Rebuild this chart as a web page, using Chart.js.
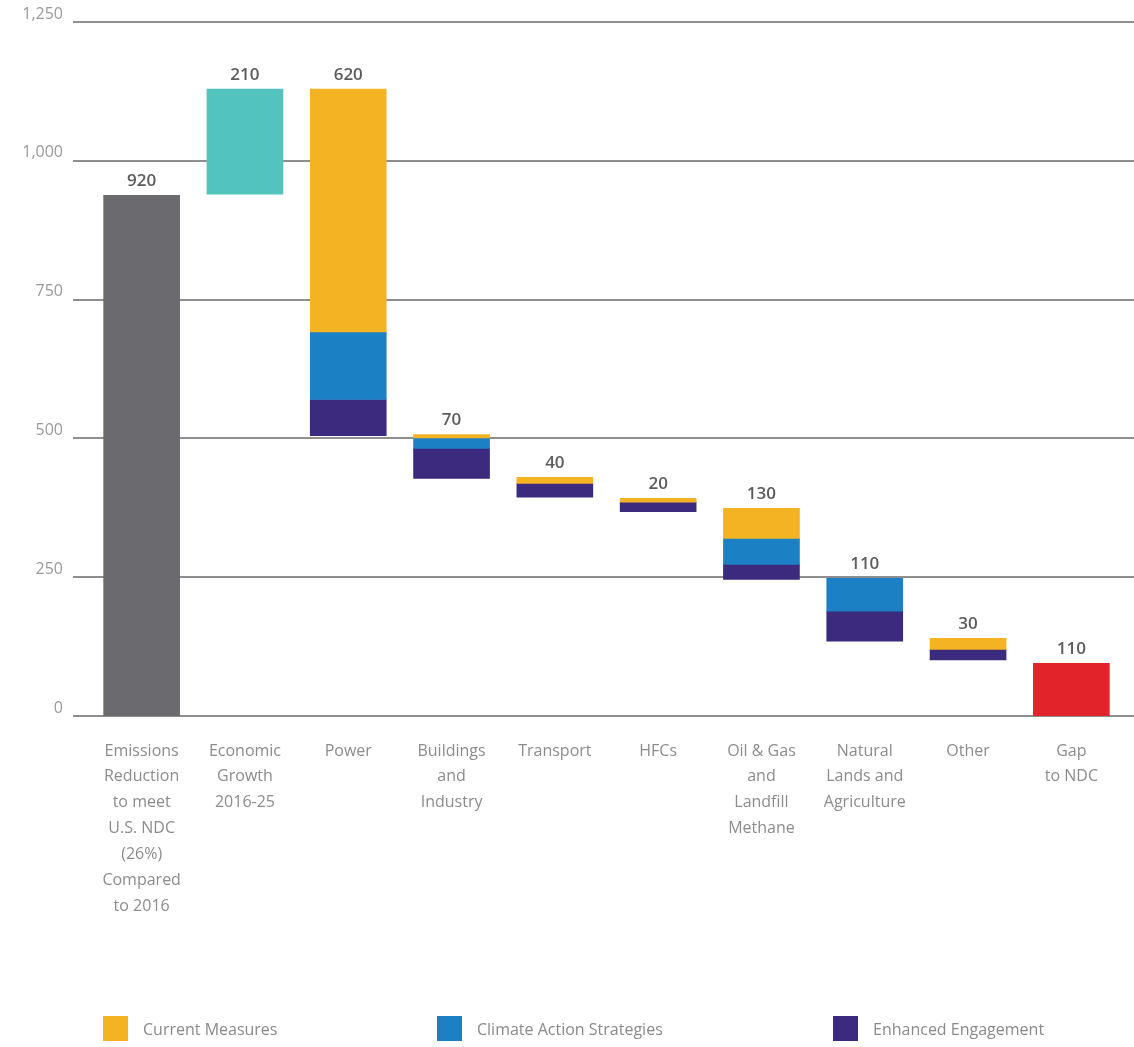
<!DOCTYPE html>
<html>
<head>
<meta charset="utf-8">
<script src="https://cdn.jsdelivr.net/npm/chart.js@4"></script>
<style>
  body { margin: 0; background: #fff; }
  #wrap { position: relative; width: 1134px; height: 1047px; }
  #leyenda { position: absolute; top: 1015px; left: 0; width: 1134px; height: 27px;
             font-family: "Open Sans", sans-serif; font-size: 16px; color: #8a8a8a; }
  .item { position: absolute; top: 0; display: flex; align-items: center; height: 27px; }
  .caja { width: 25px; height: 25px; margin-right: 15px; }
</style>
</head>
<body>
<div id="wrap">
  <canvas id="grafica" width="1134" height="1047"></canvas>
  <div id="leyenda"></div>
</div>
<script>
// categories (multi-line labels under each bar)
const categorias = [
  ['Emissions', 'Reduction', 'to meet', 'U.S. NDC', '(26%)', 'Compared', 'to 2016'],
  ['Economic', 'Growth', '2016-25'],
  ['Power'],
  ['Buildings', 'and', 'Industry'],
  ['Transport'],
  ['HFCs'],
  ['Oil & Gas', 'and', 'Landfill', 'Methane'],
  ['Natural', 'Lands and', 'Agriculture'],
  ['Other'],
  ['Gap', 'to NDC']
];

// values printed above each bar
const totales = ['920', '210', '620', '70', '40', '20', '130', '110', '30', '110'];

// floating segments [bottom, top]
const reduccion = [[0, 938], null, null, null, null, null, null, null, null, null];
const crecimiento = [null, [940, 1129], null, null, null, null, null, null, null, null];
const medidasActuales = [null, null, [692, 1129], [501, 507], [419, 430], [385, 392], [320, 374], null, [120, 140], null];
const estrategias = [null, null, [570, 692], [482, 501], null, null, [273, 320], [189, 248], null, null];
const compromiso = [null, null, [505, 570], [428, 482], [394, 419], [368, 385], [246, 273], [135, 189], [101, 120], null];
const brecha = [null, null, null, null, null, null, null, null, null, [0, 95]];

// y axis ticks
const ticksY = [0, 250, 500, 750, 1000, 1250];

(function() {

  const ctx = document.getElementById('grafica');

  // horizontal gridlines that run wider than the plot area
  const lineas = {
    id: 'lineas',
    beforeDatasetsDraw(chart) {
      const c = chart.ctx;
      const y = chart.scales.y;
      c.save();
      c.strokeStyle = '#8e8e8e';
      c.lineWidth = 2;
      ticksY.forEach(v => {
        const py = Math.round(y.getPixelForValue(v));
        c.beginPath();
        c.moveTo(73, py);
        c.lineTo(chart.width, py);
        c.stroke();
      });
      c.restore();
    }
  };

  // total over the highest segment of every column
  const etiquetas = {
    id: 'etiquetas',
    afterDatasetsDraw(chart) {
      const c = chart.ctx;
      c.save();
      c.font = '600 17px "Open Sans", sans-serif';
      c.fillStyle = '#5c5c5c';
      c.textAlign = 'center';
      c.textBaseline = 'bottom';
      totales.forEach((txt, i) => {
        let tope = Infinity, x = 0;
        chart.data.datasets.forEach((ds, d) => {
          if (ds.data[i] == null) return;
          const bar = chart.getDatasetMeta(d).data[i];
          if (bar.y < tope) { tope = bar.y; x = bar.x; }
        });
        c.fillText(txt, x, tope - 6);
      });
      c.restore();
    }
  };

  const chart = new Chart(ctx, {
    type: 'bar',
    data: {
      labels: categorias,
      datasets: [
        { label: 'Reduction', data: reduccion, backgroundColor: '#6b6b6f' },
        { label: 'Growth', data: crecimiento, backgroundColor: '#52c3bf' },
        { label: 'Current Measures', data: medidasActuales, backgroundColor: '#f4b323' },
        { label: 'Climate Action Strategies', data: estrategias, backgroundColor: '#1b80c4' },
        { label: 'Enhanced Engagement', data: compromiso, backgroundColor: '#3c2a7e' },
        { label: 'Gap', data: brecha, backgroundColor: '#e0242a' }
      ]
    },
    options: {
      responsive: false,
      animation: false,
      grouped: false,
      barThickness: 76,
      borderWidth: 0,
      layout: { padding: { top: 22, right: 11, bottom: 0, left: 0 } },
      plugins: {
        legend: { display: false },
        tooltip: { enabled: false }
      },
      scales: {
        x: {
          grid: { display: false, drawTicks: false },
          border: { display: false },
          ticks: {
            color: '#8c8c8c',
            padding: 22,
            autoSkip: false,
            maxRotation: 0,
            font: { family: '"Open Sans", sans-serif', size: 16, lineHeight: 1.62 }
          },
          afterFit(scale) { scale.height = 331; }
        },
        y: {
          min: 0,
          max: 1250,
          grid: { display: false, drawTicks: false },
          border: { display: false },
          afterBuildTicks(scale) { scale.ticks = ticksY.map(v => ({ value: v })); },
          ticks: {
            color: '#9a9a9a',
            padding: 27,
            align: 'end',
            font: { family: '"Open Sans", sans-serif', size: 16 },
            callback: v => v.toLocaleString('en-US')
          },
          afterFit(scale) {
            scale.width = 90;
            // no extra room for the tick labels, the layout padding is enough
            scale.paddingTop = 0;
            scale.paddingBottom = 0;
          }
        }
      }
    },
    plugins: [lineas, etiquetas]
  });

  // legend as html, spaced like the original
  const leyenda = document.getElementById('leyenda');
  const items = [
    { texto: 'Current Measures', color: '#f4b323', left: 103 },
    { texto: 'Climate Action Strategies', color: '#1b80c4', left: 437 },
    { texto: 'Enhanced Engagement', color: '#3c2a7e', left: 833 }
  ];
  items.forEach(it => {
    const div = document.createElement('div');
    div.className = 'item';
    div.style.left = it.left + 'px';
    div.innerHTML = '<span class="caja" style="background:' + it.color + '"></span>' + it.texto;
    leyenda.appendChild(div);
  });

})();
</script>
</body>
</html>
